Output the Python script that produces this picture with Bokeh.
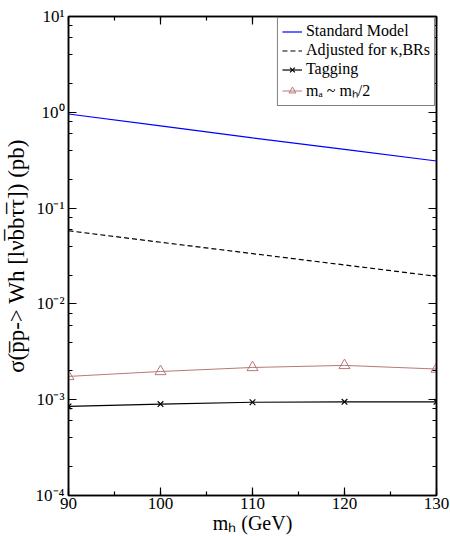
from bokeh.plotting import figure
from bokeh.models import (SingleIntervalTicker, LogTicker, LinearAxis, LogAxis,
                          CustomJSTickFormatter, Legend, LegendItem)
from bokeh.embed import file_html
from bokeh.resources import INLINE

# data
mh = [90, 100, 110, 120, 130]
standard_model = [0.96, 0.72, 0.54, 0.41, 0.31]
adjusted = [0.058, 0.044, 0.0335, 0.0255, 0.0194]
tagging = [0.00085, 0.00090, 0.00094, 0.00095, 0.00095]
ma_half = [0.00175, 0.00197, 0.00217, 0.00228, 0.00209]

FONT = "Liberation Serif"

p = figure(width=450, height=536, x_range=(90, 130), y_range=(1e-4, 10),
           y_axis_type="log", output_backend="svg", toolbar_location=None,
           min_border_left=65, min_border_right=14, min_border_top=16,
           min_border_bottom=40)
p.xgrid.visible = False
p.ygrid.visible = False
p.outline_line_color = "black"
p.outline_line_width = 1.5
p.background_fill_color = "white"
p.border_fill_color = "white"

sup = CustomJSTickFormatter(code="""
const s = {'-':'\u207b','0':'\u2070','1':'\u00b9','2':'\u00b2','3':'\u00b3','4':'\u2074',
           '5':'\u2075','6':'\u2076','7':'\u2077','8':'\u2078','9':'\u2079'};
const e = Math.round(Math.log10(tick));
return '10' + String(e).split('').map(c => s[c]).join('');
""")

def style_axis(ax, labels=True):
    ax.major_tick_in = 8
    ax.major_tick_out = 0
    ax.minor_tick_in = 4
    ax.minor_tick_out = 0
    ax.axis_line_color = "black"
    ax.axis_line_width = 1.5
    ax.major_tick_line_width = 1.2
    ax.minor_tick_line_width = 1.2
    ax.major_label_text_font = FONT
    ax.major_label_text_font_size = "17px" if labels else "1px"
    ax.major_label_text_color = "black" if labels else None
    ax.axis_label_text_font = FONT
    ax.axis_label_text_font_style = "normal"
    ax.axis_label_text_color = "black"
    if not labels:
        ax.major_label_standoff = 0

xt = SingleIntervalTicker(interval=10, num_minor_ticks=2)
p.xaxis.ticker = xt
p.xaxis.axis_label = "m\u2095 (GeV)"
style_axis(p.xaxis[0])
p.xaxis.axis_label_standoff = 0
p.xaxis.major_label_standoff = 2
p.xaxis.axis_label_text_font_size = "20px"

p.yaxis.ticker = LogTicker(desired_num_ticks=6)
p.yaxis.formatter = sup
p.yaxis.axis_label = "\u03c3(p\u0305p-> Wh [l\u03bdb\u0305b\u03c4\u0305\u03c4]) (pb)"
style_axis(p.yaxis[0])
p.yaxis.axis_label_standoff = 4
p.yaxis.major_label_standoff = 4
p.yaxis.axis_label_text_font_size = "23px"

top = LinearAxis(ticker=SingleIntervalTicker(interval=10, num_minor_ticks=2))
style_axis(top, labels=False)
p.add_layout(top, "above")
right = LogAxis(ticker=LogTicker(desired_num_ticks=6))
style_axis(right, labels=False)
p.add_layout(right, "right")

r_sm = p.line(mh, standard_model, line_color="#0000ff", line_width=1.2)
r_adj = p.line(mh, adjusted, line_color="black", line_width=1.2, line_dash="5 3")
r_tag_l = p.line(mh, tagging, line_color="black", line_width=1.2)
r_tag_m = p.scatter(mh, tagging, marker="x", size=8, line_color="black", line_width=1.2)
r_ma_l = p.line(mh, ma_half, line_color="#b87878", line_width=1.0)
r_ma_m = p.scatter(mh, ma_half, marker="triangle", size=11, fill_color=None,
                   line_color="#b87878", line_width=1.0)

legend = Legend(items=[
    LegendItem(label="Standard Model", renderers=[r_sm]),
    LegendItem(label="Adjusted for \u03ba,BRs", renderers=[r_adj]),
    LegendItem(label="Tagging", renderers=[r_tag_l, r_tag_m]),
    LegendItem(label="m\u2090 ~ m\u2095/2", renderers=[r_ma_l, r_ma_m]),
], location="top_right")
legend.margin = 1
legend.padding = 4
legend.spacing = 1
legend.label_height = 17
legend.glyph_height = 17
legend.glyph_width = 20
legend.label_standoff = 4
legend.label_text_font = FONT
legend.label_text_font_size = "16px"
legend.label_text_color = "black"
legend.border_line_color = "black"
legend.border_line_width = 1.2
legend.background_fill_alpha = 1.0
p.add_layout(legend, "center")

open("out.html", "w").write(file_html(p, INLINE))
